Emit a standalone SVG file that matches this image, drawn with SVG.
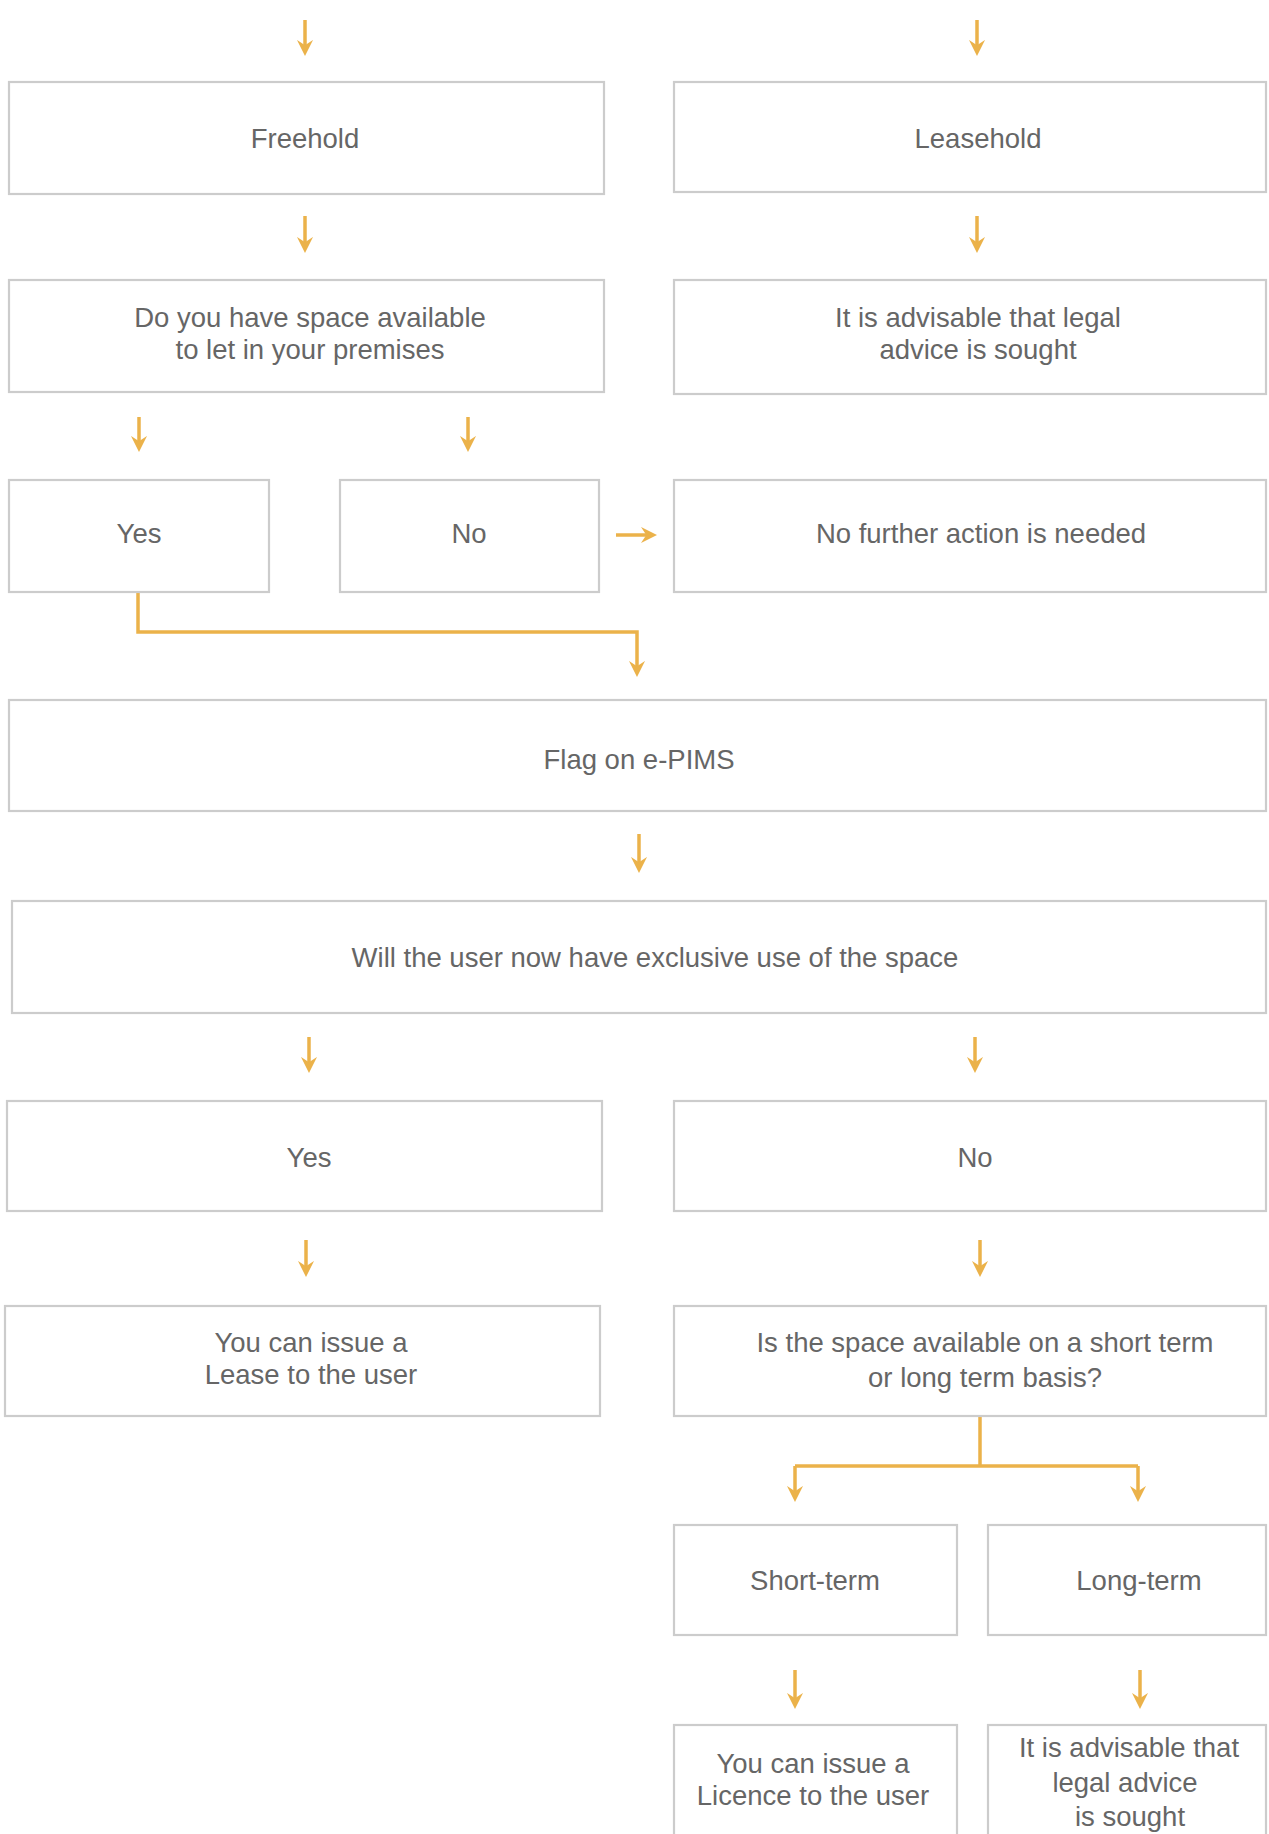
<svg xmlns="http://www.w3.org/2000/svg" width="1269" height="1834" viewBox="0 0 1269 1834">
<defs>
<style>
.box{fill:#ffffff;stroke:#cccccc;stroke-width:2.2}
.t{font-family:"Liberation Sans",Arial,sans-serif;font-size:27.5px;fill:#666666;text-anchor:middle}
.c{fill:none;stroke:#ebb24a;stroke-width:3.5}
</style>
<marker id="ah" viewBox="0 0 12 12" refX="9" refY="6" markerWidth="4.6" markerHeight="4.6" orient="auto" markerUnits="strokeWidth">
<path d="M0,0 L12,6 L0,12 L4,6 Z" fill="#ebb24a"/>
</marker>
</defs>
<rect width="1269" height="1834" fill="#ffffff"/>
<g id="connectors">
<path class="c" d="M305,20 V52" marker-end="url(#ah)"/>
<path class="c" d="M977,20 V52" marker-end="url(#ah)"/>
<path class="c" d="M305,216 V249" marker-end="url(#ah)"/>
<path class="c" d="M977,216 V249" marker-end="url(#ah)"/>
<path class="c" d="M139,417 V448" marker-end="url(#ah)"/>
<path class="c" d="M468,417 V448" marker-end="url(#ah)"/>
<path class="c" d="M616,535 H653" marker-end="url(#ah)"/>
<path class="c" d="M138,592 V632 H637 V673" marker-end="url(#ah)"/>
<path class="c" d="M639,834 V869" marker-end="url(#ah)"/>
<path class="c" d="M309,1037 V1069" marker-end="url(#ah)"/>
<path class="c" d="M975,1037 V1069" marker-end="url(#ah)"/>
<path class="c" d="M306,1240 V1273" marker-end="url(#ah)"/>
<path class="c" d="M980,1240 V1273" marker-end="url(#ah)"/>
<path class="c" d="M980,1416 V1466"/>
<path class="c" d="M795,1466 H1138"/>
<path class="c" d="M795,1466 V1498" marker-end="url(#ah)"/>
<path class="c" d="M1138,1466 V1498" marker-end="url(#ah)"/>
<path class="c" d="M795,1670 V1705" marker-end="url(#ah)"/>
<path class="c" d="M1140,1670 V1705" marker-end="url(#ah)"/>
</g>
<g id="freehold"><rect class="box" x="9" y="82" width="595" height="112"/><text class="t" x="305" y="148">Freehold</text></g>
<g id="leasehold"><rect class="box" x="674" y="82" width="592" height="110"/><text class="t" x="978" y="148">Leasehold</text></g>
<g id="space-available"><rect class="box" x="9" y="280" width="595" height="112"/><text class="t" x="310" y="327">Do you have space available</text><text class="t" x="310" y="359">to let in your premises</text></g>
<g id="legal-advice-1"><rect class="box" x="674" y="280" width="592" height="114"/><text class="t" x="978" y="327">It is advisable that legal</text><text class="t" x="978" y="359">advice is sought</text></g>
<g id="yes-1"><rect class="box" x="9" y="480" width="260" height="112"/><text class="t" x="139" y="543">Yes</text></g>
<g id="no-1"><rect class="box" x="340" y="480" width="259" height="112"/><text class="t" x="469" y="543">No</text></g>
<g id="no-further-action"><rect class="box" x="674" y="480" width="592" height="112"/><text class="t" x="981" y="543">No further action is needed</text></g>
<g id="flag-epims"><rect class="box" x="9" y="700" width="1257" height="111"/><text class="t" x="639" y="769">Flag on e-PIMS</text></g>
<g id="exclusive-use"><rect class="box" x="12" y="901" width="1254" height="112"/><text class="t" x="655" y="967">Will the user now have exclusive use of the space</text></g>
<g id="yes-2"><rect class="box" x="7" y="1101" width="595" height="110"/><text class="t" x="309" y="1167">Yes</text></g>
<g id="no-2"><rect class="box" x="674" y="1101" width="592" height="110"/><text class="t" x="975" y="1167">No</text></g>
<g id="issue-lease"><rect class="box" x="5" y="1306" width="595" height="110"/><text class="t" x="311" y="1352">You can issue a</text><text class="t" x="311" y="1384">Lease to the user</text></g>
<g id="term-basis"><rect class="box" x="674" y="1306" width="592" height="110"/><text class="t" x="985" y="1352">Is the space available on a short term</text><text class="t" x="985" y="1387">or long term basis?</text></g>
<g id="short-term"><rect class="box" x="674" y="1525" width="283" height="110"/><text class="t" x="815" y="1590">Short-term</text></g>
<g id="long-term"><rect class="box" x="988" y="1525" width="278" height="110"/><text class="t" x="1139" y="1590">Long-term</text></g>
<g id="issue-licence"><rect class="box" x="674" y="1725" width="283" height="125"/><text class="t" x="813" y="1773">You can issue a</text><text class="t" x="813" y="1805">Licence to the user</text></g>
<g id="legal-advice-2"><rect class="box" x="988" y="1725" width="278" height="125"/><text class="t" x="1129" y="1757">It is advisable that</text><text class="t" x="1125" y="1792">legal advice</text><text class="t" x="1130" y="1826">is sought</text></g>
</svg>
